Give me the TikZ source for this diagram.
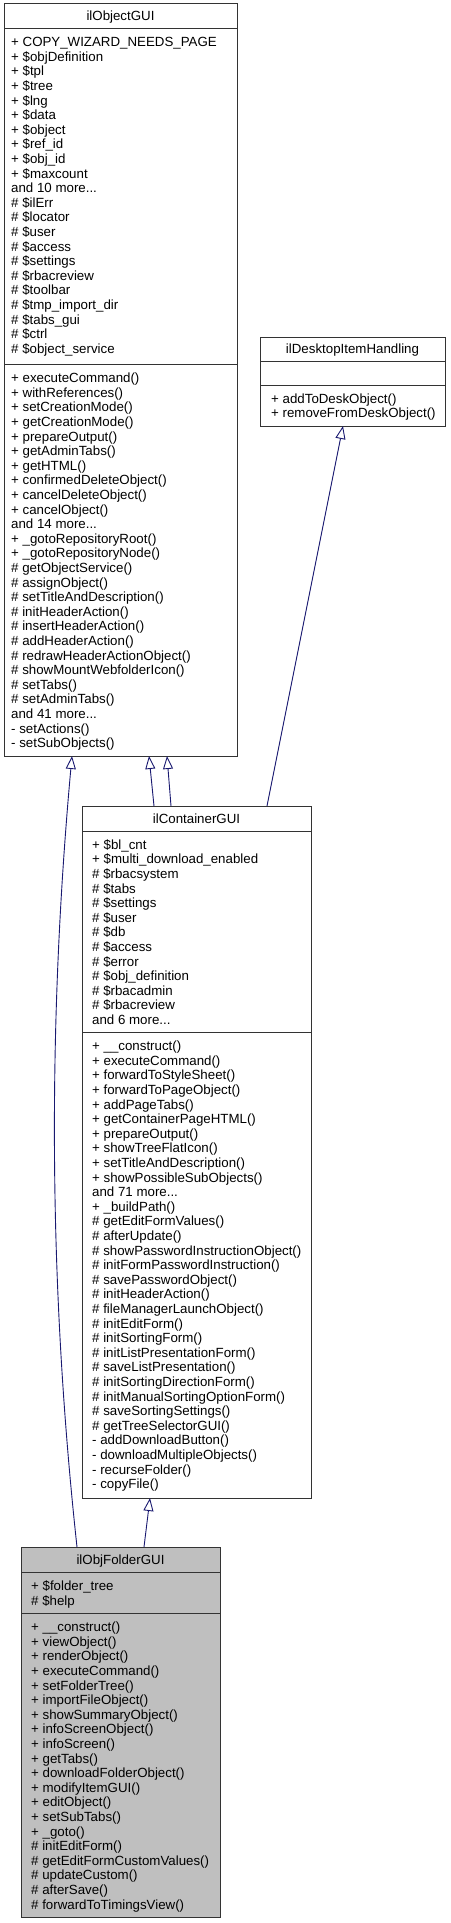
\documentclass[tikz,border=0pt]{standalone}
\usepackage{fontspec}
\setmainfont{Liberation Sans}
\usetikzlibrary{arrows.meta}
\definecolor{edgeblue}{HTML}{191970}
\definecolor{boxgray}{HTML}{BFBFBF}
\newcommand\fs{\fontsize{13.3}{14.6}\selectfont}
\newcommand\st{\rule{0pt}{11pt}}
\begin{document}
\begin{tikzpicture}[x=1pt,y=-1pt,
  box/.style={draw=black!80, line width=0.9pt, inner sep=0pt, outer sep=0pt, anchor=north west},
  sep/.style={draw=black!80, line width=0.9pt},
  boxtext/.style={inner sep=0pt, anchor=north west, align=left, font=\fs},
  ttl/.style={inner sep=0pt, anchor=base, font=\fs},
  inh/.style={draw=edgeblue, line width=0.9pt, -{Triangle[length=13pt,width=10pt,fill=white]}}
]
\useasboundingbox (0,0) rectangle (450,1923);

% ---------------- ilObjectGUI ----------------
\node[box, minimum width=233pt, minimum height=753pt] (A) at (4,3) {};
\draw[sep] (4,28) -- (237,28);
\draw[sep] (4,364) -- (237,364);
\node[ttl] (At) at (120.5,20.5) {ilObjectGUI};
\node[boxtext] (Aa) at (11,35.5) {\st+ COPY\_WIZARD\_NEEDS\_PAGE\\
+ \$objDefinition\\
+ \$tpl\\
+ \$tree\\
+ \$lng\\
+ \$data\\
+ \$object\\
+ \$ref\_id\\
+ \$obj\_id\\
+ \$maxcount\\
and 10 more...\\
\# \$ilErr\\
\# \$locator\\
\# \$user\\
\# \$access\\
\# \$settings\\
\# \$rbacreview\\
\# \$toolbar\\
\# \$tmp\_import\_dir\\
\# \$tabs\_gui\\
\# \$ctrl\\
\# \$object\_service};
\node[boxtext] (Am) at (11,371.5) {\st+ executeCommand()\\
+ withReferences()\\
+ setCreationMode()\\
+ getCreationMode()\\
+ prepareOutput()\\
+ getAdminTabs()\\
+ getHTML()\\
+ confirmedDeleteObject()\\
+ cancelDeleteObject()\\
+ cancelObject()\\
and 14 more...\\
+ \_gotoRepositoryRoot()\\
+ \_gotoRepositoryNode()\\
\# getObjectService()\\
\# assignObject()\\
\# setTitleAndDescription()\\
\# initHeaderAction()\\
\# insertHeaderAction()\\
\# addHeaderAction()\\
\# redrawHeaderActionObject()\\
\# showMountWebfolderIcon()\\
\# setTabs()\\
\# setAdminTabs()\\
and 41 more...\\
- setActions()\\
- setSubObjects()};

% ---------------- ilDesktopItemHandling ----------------
\node[box, minimum width=185pt, minimum height=89pt] (B) at (260,337) {};
\draw[sep] (260,361) -- (445,361);
\draw[sep] (260,385) -- (445,385);
\node[ttl] (Bt) at (352.5,353.5) {ilDesktopItemHandling};
\node[boxtext] (Bm) at (271,392) {\st+ addToDeskObject()\\
+ removeFromDeskObject()};

% ---------------- ilContainerGUI ----------------
\node[box, minimum width=229pt, minimum height=692pt] (C) at (82,806) {};
\draw[sep] (82,831) -- (311,831);
\draw[sep] (82,1032) -- (311,1032);
\node[ttl] (Ct) at (196.5,823.5) {ilContainerGUI};
\node[boxtext] (Ca) at (92,838) {\st+ \$bl\_cnt\\
+ \$multi\_download\_enabled\\
\# \$rbacsystem\\
\# \$tabs\\
\# \$settings\\
\# \$user\\
\# \$db\\
\# \$access\\
\# \$error\\
\# \$obj\_definition\\
\# \$rbacadmin\\
\# \$rbacreview\\
and 6 more...};
\node[boxtext] (Cm) at (92,1039.5) {\st+ \_\_construct()\\
+ executeCommand()\\
+ forwardToStyleSheet()\\
+ forwardToPageObject()\\
+ addPageTabs()\\
+ getContainerPageHTML()\\
+ prepareOutput()\\
+ showTreeFlatIcon()\\
+ setTitleAndDescription()\\
+ showPossibleSubObjects()\\
and 71 more...\\
+ \_buildPath()\\
\# getEditFormValues()\\
\# afterUpdate()\\
\# showPasswordInstructionObject()\\
\# initFormPasswordInstruction()\\
\# savePasswordObject()\\
\# initHeaderAction()\\
\# fileManagerLaunchObject()\\
\# initEditForm()\\
\# initSortingForm()\\
\# initListPresentationForm()\\
\# saveListPresentation()\\
\# initSortingDirectionForm()\\
\# initManualSortingOptionForm()\\
\# saveSortingSettings()\\
\# getTreeSelectorGUI()\\
- addDownloadButton()\\
- downloadMultipleObjects()\\
- recurseFolder()\\
- copyFile()};

% ---------------- ilObjFolderGUI ----------------
\node[box, fill=boxgray, minimum width=199pt, minimum height=370pt] (D) at (21,1547) {};
\draw[sep] (21,1572) -- (220,1572);
\draw[sep] (21,1613) -- (220,1613);
\node[ttl] (Dt) at (120.5,1564) {ilObjFolderGUI};
\node[boxtext] (Da) at (31,1579.5) {\st+ \$folder\_tree\\
\# \$help};
\node[boxtext] (Dm) at (31,1620.5) {\st+ \_\_construct()\\
+ viewObject()\\
+ renderObject()\\
+ executeCommand()\\
+ setFolderTree()\\
+ importFileObject()\\
+ showSummaryObject()\\
+ infoScreenObject()\\
+ infoScreen()\\
+ getTabs()\\
+ downloadFolderObject()\\
+ modifyItemGUI()\\
+ editObject()\\
+ setSubTabs()\\
+ \_goto()\\
\# initEditForm()\\
\# getEditFormCustomValues()\\
\# updateCustom()\\
\# afterSave()\\
\# forwardToTimingsView()};

% ---------------- inheritance edges ----------------
\draw[inh] ([xshift=56pt]D.north west) .. controls (48,1280) and (48,1020) .. ([xshift=68pt]A.south west);
\draw[inh] ([xshift=72pt]C.north west) -- ([xshift=145pt]A.south west);
\draw[inh] ([xshift=89pt]C.north west) -- ([xshift=163pt]A.south west);
\draw[inh] ([xshift=185pt]C.north west) -- ([xshift=83pt]B.south west);
\draw[inh] ([xshift=123pt]D.north west) -- ([xshift=68pt]C.south west);
\end{tikzpicture}
\end{document}
